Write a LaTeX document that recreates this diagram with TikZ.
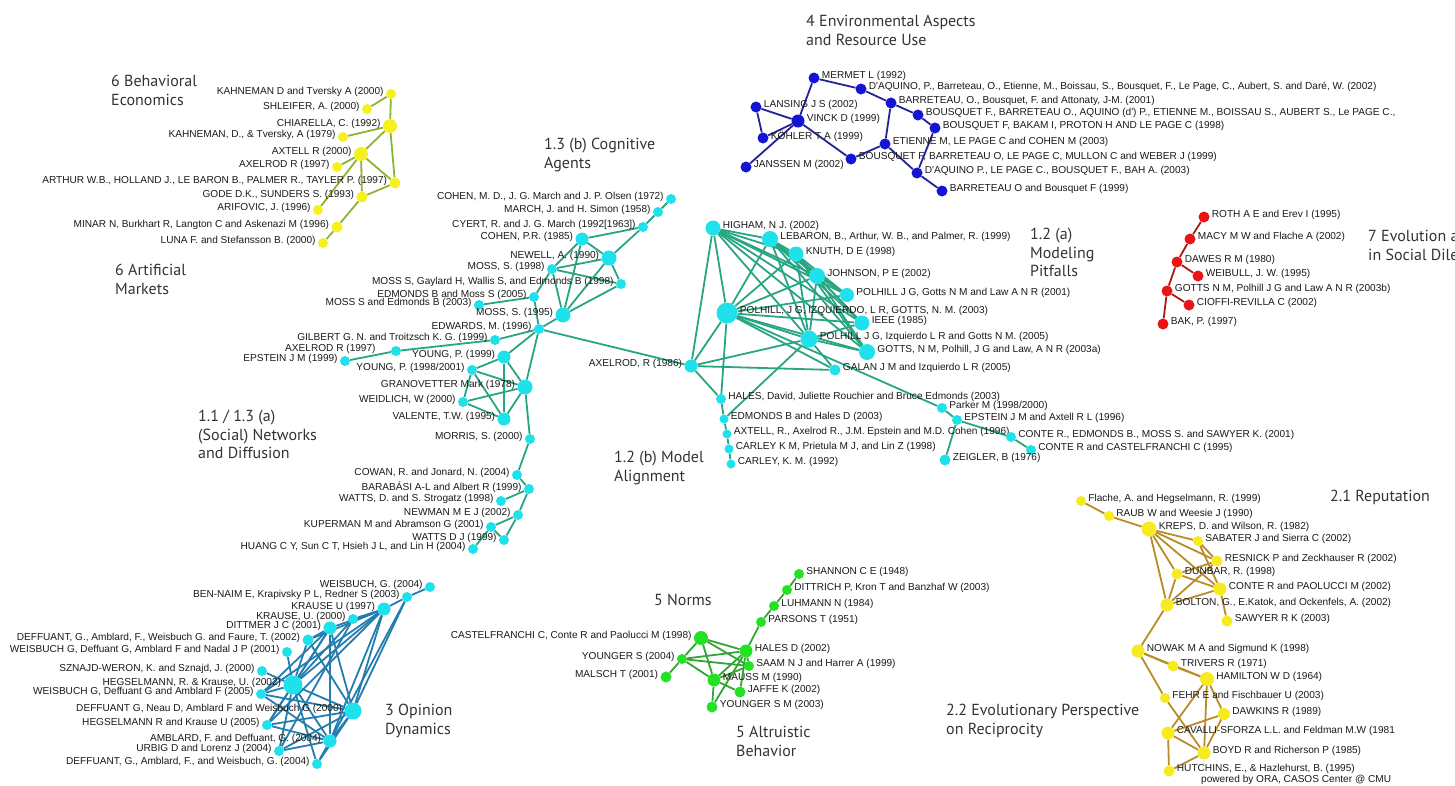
\documentclass[tikz,border=0pt]{standalone}
\usepackage{fontspec}
\newfontfamily\lblfont{Liberation Sans}
\newfontfamily\ttlfont{PT Sans}
\pgfdeclarelayer{bg}
\pgfsetlayers{bg,main}
\definecolor{ylN}{RGB}{245,240,30}
\definecolor{ylE}{RGB}{140,180,50}
\definecolor{cyN}{RGB}{30,225,235}
\definecolor{cyE}{RGB}{40,165,130}
\definecolor{blN}{RGB}{20,20,210}
\definecolor{blE}{RGB}{35,35,150}
\definecolor{rdN}{RGB}{235,20,20}
\definecolor{rdE}{RGB}{170,25,25}
\definecolor{gdN}{RGB}{245,235,30}
\definecolor{gdE}{RGB}{185,140,40}
\definecolor{grN}{RGB}{35,225,35}
\definecolor{grE}{RGB}{50,165,50}
\definecolor{opE}{RGB}{35,125,175}
\tikzset{
  lbl/.style={inner sep=0pt, font=\lblfont\fontsize{10.1}{11}\selectfont, text=black!90},
  ttl/.style={inner sep=0pt, anchor=north west, align=left, font=\ttlfont\fontsize{16}{18.5}\selectfont, text=black!80},
  dot/.style={circle, inner sep=0pt, fill=cyN},
  edg/.style={line width=1.8pt}
}
\newcommand\bib[7][]{%
  \node[dot, minimum size=#5pt+1pt] (#2) at (#3,#4) {};
  \if#6l%
    \node[lbl, anchor=east, #1] (#2-t) at ([xshift=-2pt,yshift=2pt]#2.west) {#7};
  \else
    \node[lbl, anchor=west, #1] (#2-t) at ([xshift=2pt,yshift=2pt]#2.east) {#7};
  \fi}
\begin{document}
\begin{tikzpicture}[x=1pt,y=-1pt]
\useasboundingbox (0,0) rectangle (1455,785);

% ---------- titles ----------
\node[ttl] (t1) at (111,75) {6 Behavioral\\Economics};
\node[ttl] (t2) at (115,264) {6 Artificial\\Markets};
\node[ttl] (t3) at (544,138) {1.3 (b) Cognitive\\Agents};
\node[ttl] (t4) at (806,15) {4 Environmental Aspects\\and Resource Use};
\node[ttl] (t5) at (1030,228) {1.2 (a)\\Modeling\\Pitfalls};
\begin{scope}
  \clip (0,0) rectangle (1455,785);
  \node[ttl] (t6) at (1368,230) {7 Evolution and\\in Social Dilemmas};
\end{scope}
\node[ttl] (t7) at (198,410) {1.1 / 1.3 (a)\\(Social) Networks\\and Diffusion};
\node[ttl] (t8) at (614,451) {1.2 (b) Model\\Alignment};
\node[ttl] (t9) at (654,594) {5 Norms};
\node[ttl] (t10) at (385,704) {3 Opinion\\Dynamics};
\node[ttl] (t11) at (736,726) {5 Altruistic\\Behavior};
\node[ttl] (t12) at (946,704) {2.2 Evolutionary Perspective\\on Reciprocity};
\node[ttl] (t13) at (1330,490) {2.1 Reputation};
\node[lbl, anchor=west] (ora) at (1201,780) {powered by ORA, CASOS Center @ CMU};

% ---------- 6 Behavioral Economics (yellow) ----------
\begin{scope}[dot/.style={circle, inner sep=0pt, fill=ylN}]
\bib{k00}{391}{94}{9}{l}{KAHNEMAN D and Tversky A (2000)}
\bib{shl}{367}{109}{9}{l}{SHLEIFER, A. (2000)}
\bib{chi}{390}{126}{13}{l}{CHIARELLA, C. (1992)}
\bib{k79}{343}{137}{9}{l}{KAHNEMAN, D., \& Tversky, A (1979)}
\bib{axt}{361}{154}{13}{l}{AXTELL R (2000)}
\bib{axe}{337}{167}{9}{l}{AXELROD R (1997)}
\bib{art}{395}{183}{10}{l}{ARTHUR W.B., HOLLAND J., LE BARON B., PALMER R., TAYLER P. (1997)}
\bib{god}{362}{197}{10}{l}{GODE D.K., SUNDERS S. (1993)}
\bib{ari}{318}{210}{9}{l}{ARIFOVIC, J. (1996)}
\bib{min}{337}{227}{10}{l}{MINAR N, Burkhart R, Langton C and Askenazi M (1996)}
\bib{lun}{323}{243}{9}{l}{LUNA F. and Stefansson B. (2000)}
\end{scope}
\begin{pgfonlayer}{bg}
\foreach \a/\b in {k00/shl,k00/chi,chi/art,chi/k79,chi/axt,axt/axe,axt/art,axt/ari,axt/god,god/art,god/min,min/lun}
  \draw[edg, ylE] (\a) -- (\b);
\end{pgfonlayer}

% ---------- cyan: cognitive agents / networks ----------
\bib{cmd}{671}{199}{9}{l}{COHEN, M. D., J. G. March and J. P. Olsen (1972)}
\bib{mar}{658}{212}{9}{l}{MARCH, J. and H. Simon (1958)}
\bib{cye}{643}{227}{9}{l}{CYERT, R. and J. G. March (1992[1963])}
\bib{cpr}{582}{239}{12}{l}{COHEN, P.R. (1985)}
\bib{new}{609}{258}{14}{l}{NEWELL, A. (1990)}
\bib{m98}{552}{269}{9}{l}{MOSS, S. (1998)}
\bib{mgw}{621}{284}{9}{l}{MOSS S, Gaylard H, Wallis S, and Edmonds B (1998)}
\bib{e05}{534}{297}{9}{l}{EDMONDS B and Moss S (2005)}
\bib{m03}{479}{305}{9}{l}{MOSS S and Edmonds B (2003)}
\bib{m95}{563}{315}{14}{l}{MOSS, S. (1995)}
\bib{edw}{539}{329}{9}{l}{EDWARDS, M. (1996)}
\bib{gil}{495}{340}{9}{l}{GILBERT G. N. and Troitzsch K. G. (1999)}
\bib[xshift=-13pt]{ax7}{396}{351}{9}{l}{AXELROD R (1997)}
\bib{eps}{345}{361}{9}{l}{EPSTEIN J M (1999)}
\bib{y99}{504}{357}{12}{l}{YOUNG, P. (1999)}
\bib{y98}{472}{370}{9}{l}{YOUNG, P. (1998/2001)}
\bib{gra}{525}{387}{14}{l}{GRANOVETTER Mark (1978)}
\bib{wei}{463}{402}{9}{l}{WEIDLICH, W (2000)}
\bib{val}{504}{419}{12}{l}{VALENTE, T.W. (1995)}
\bib{mor}{530}{439}{9}{l}{MORRIS, S. (2000)}
\bib{cow}{517}{475}{9}{l}{COWAN, R. and Jonard, N. (2004)}
\bib{bar}{529}{489}{9}{l}{BARABÁSI A-L and Albert R (1999)}
\bib{wat}{501}{501}{9}{l}{WATTS, D. and S. Strogatz (1998)}
\bib{nem}{518}{515}{9}{l}{NEWMAN M E J (2002)}
\bib{kup}{491}{527}{9}{l}{KUPERMAN M and Abramson G (2001)}
\bib{wdj}{504}{540}{9}{l}{WATTS D J (1999)}
\bib{hua}{473}{549}{9}{l}{HUANG C Y, Sun C T, Hsieh J L, and Lin H (2004)}
\bib{a86}{691}{366}{12}{l}{AXELROD, R (1986)}

% ---------- cyan: modeling pitfalls / model alignment ----------
\bib{hig}{713}{228}{14}{r}{HIGHAM, N J. (2002)}
\bib{leb}{770}{239}{15}{r}{LEBARON, B., Arthur, W. B., and Palmer, R. (1999)}
\bib{knu}{796}{254}{14}{r}{KNUTH, D E (1998)}
\bib{joh}{817}{276}{15}{r}{JOHNSON, P E (2002)}
\bib{p01}{847}{295}{13}{r}{POLHILL J G, Gotts N M and Law A N R (2001)}
\bib{p03}{727}{313}{20}{r}{POLHILL, J G, IZQUIERDO, L R, GOTTS, N. M. (2003)}
\bib{iee}{862}{323}{14}{r}{IEEE (1985)}
\bib{p05}{809}{339}{16}{r}{POLHILL J G, Izquierdo L R and Gotts N M. (2005)}
\bib{got}{867}{352}{15}{r}{GOTTS, N M, Polhill, J G and Law, A N R (2003a)}
\bib{gal}{835}{370}{10}{r}{GALAN J M and Izquierdo L R (2005)}
\bib{hal}{721}{399}{9}{r}{HALES, David, Juliette Rouchier and Bruce Edmonds (2003)}
\bib{edh}{724}{419}{8}{r}{EDMONDS B and Hales D (2003)}
\bib{ax6}{727}{434}{8}{r}{AXTELL, R., Axelrod R., J.M. Epstein and M.D. Cohen (1996)}
\bib{ckm}{729}{449}{8}{r}{CARLEY K M, Prietula M J, and Lin Z (1998)}
\bib{c92}{731}{464}{8}{r}{CARLEY, K. M. (1992)}
\bib{par}{942}{408}{9}{r}{Parker M (1998/2000)}
\bib{eax}{957}{420}{9}{r}{EPSTEIN J M and Axtell R L (1996)}
\bib{c01}{1011}{437}{9}{r}{CONTE R., EDMONDS B., MOSS S. and SAWYER K. (2001)}
\bib{c95}{1031}{450}{9}{r}{CONTE R and CASTELFRANCHI C (1995)}
\bib{zei}{945}{460}{10}{r}{ZEIGLER, B (1976)}
\begin{pgfonlayer}{bg}
\foreach \a/\b in {cmd/mar,mar/cye,cye/cpr,cye/new,cpr/new,cpr/m98,cpr/m95,new/m98,new/mgw,new/m95,m98/mgw,m98/m95,m98/e05,mgw/m95,e05/m03,e05/edw,m95/edw,edw/gil,edw/y99,edw/gra,edw/a86,gil/ax7,ax7/eps,y99/y98,y99/gra,y99/val,y98/gra,y98/val,y98/wei,wei/gra,wei/val,gra/val,gra/mor,mor/cow,cow/bar,bar/wat,bar/nem,nem/kup,nem/wdj,kup/wdj,kup/hua,
  a86/hig,a86/p03,a86/p05,a86/gal,a86/hal,
  hig/leb,hig/knu,hig/joh,hig/p01,hig/p03,hig/iee,hig/p05,hig/got,
  leb/knu,leb/joh,leb/p01,leb/p03,leb/iee,leb/got,leb/p05,
  knu/joh,knu/p01,knu/iee,knu/got,knu/p03,knu/p05,
  joh/p03,joh/p05,joh/iee,joh/got,joh/p01,
  p03/iee,p03/got,p03/p05,p03/gal,p03/p01,p05/iee,p05/got,p05/gal,p05/edh,
  p03/par,par/eax,eax/c01,c01/c95,eax/zei,
  p03/hal,hal/edh,edh/ax6,ax6/ckm,ckm/c92}
  \draw[edg, cyE] (\a) -- (\b);
\end{pgfonlayer}

% ---------- 4 Environmental (blue) ----------
\begin{scope}[dot/.style={circle, inner sep=0pt, fill=blN}]
\bib{mer}{814}{78}{10}{r}{MERMET L (1992)}
\bib{d02}{861}{89}{10}{r}{D'AQUINO, P., Barreteau, O., Etienne, M., Boissau, S., Bousquet, F., Le Page, C., Aubert, S. and Daré, W. (2002)}
\bib{b01}{891}{103}{10}{r}{BARRETEAU, O., Bousquet, F. and Attonaty, J-M. (2001)}
\bib{bfb}{918}{115}{10}{r}{BOUSQUET F., BARRETEAU O., AQUINO (d') P., ETIENNE M., BOISSAU S., AUBERT S., Le PAGE C.,}
\bib{b98}{935}{128}{10}{r}{BOUSQUET F, BAKAM I, PROTON H AND LE PAGE C (1998)}
\bib{lan}{756}{107}{10}{r}{LANSING J S (2002)}
\bib{vin}{798}{121}{12}{r}{VINCK D (1999)}
\bib{koh}{763}{138}{10}{r}{KÖHLER T A (1999)}
\bib{eti}{885}{144}{10}{r}{ETIENNE M, LE PAGE C and COHEN M (2003)}
\bib{b99}{851}{159}{10}{r}{BOUSQUET F, BARRETEAU O, LE PAGE C, MULLON C and WEBER J (1999)}
\bib{jan}{746}{167}{10}{r}{JANSSEN M (2002)}
\bib{d03}{917}{173}{10}{r}{D'AQUINO P., LE PAGE C., BOUSQUET F., BAH A. (2003)}
\bib{b9b}{942}{191}{10}{r}{BARRETEAU O and Bousquet F (1999)}
\end{scope}
\begin{pgfonlayer}{bg}
\foreach \a/\b in {mer/d02,d02/b01,b01/bfb,bfb/b98,b98/d03,d03/b9b,d03/eti,b01/eti,eti/b99,b99/vin,vin/mer,vin/lan,lan/koh,vin/koh,vin/jan}
  \draw[edg, blE] (\a) -- (\b);
\end{pgfonlayer}

% ---------- 7 Evolution (red) ----------
\begin{scope}[dot/.style={circle, inner sep=0pt, fill=rdN}]
\bib{rot}{1204}{217}{10}{r}{ROTH A E and Erev I (1995)}
\bib{mac}{1190}{239}{10}{r}{MACY M W and Flache A (2002)}
\bib{daw}{1177}{262}{10}{r}{DAWES R M (1980)}
\bib{wbl}{1198}{276}{10}{r}{WEIBULL, J. W. (1995)}
\bib{gtb}{1167}{291}{10}{r}{GOTTS N M, Polhill J G and Law A N R (2003b)}
\bib{cio}{1189}{305}{10}{r}{CIOFFI-REVILLA C (2002)}
\bib{bak}{1163}{324}{10}{r}{BAK, P. (1997)}
\end{scope}
\begin{pgfonlayer}{bg}
\foreach \a/\b in {rot/mac,mac/daw,daw/wbl,daw/gtb,gtb/cio,gtb/bak}
  \draw[edg, rdE] (\a) -- (\b);
\end{pgfonlayer}

% ---------- 2.1 / 2.2 (gold) ----------
\begin{scope}[dot/.style={circle, inner sep=0pt, fill=gdN}]
\bib{fla}{1081}{501}{9}{r}{Flache, A. and Hegselmann, R. (1999)}
\bib{rau}{1109}{516}{9}{r}{RAUB W and Weesie J (1990)}
\bib{kre}{1149}{529}{14}{r}{KREPS, D. and Wilson, R. (1982)}
\bib{sab}{1198}{541}{9}{r}{SABATER J and Sierra C (2002)}
\bib{res}{1217}{561}{10}{r}{RESNICK P and Zeckhauser R (2002)}
\bib{dun}{1177}{574}{10}{r}{DUNBAR, R. (1998)}
\bib{con}{1220}{589}{12}{r}{CONTE R and PAOLUCCI M (2002)}
\bib{bol}{1167}{605}{12}{r}{BOLTON, G., E.Katok, and Ockenfels, A. (2002)}
\bib{saw}{1227}{621}{10}{r}{SAWYER R K (2003)}
\bib{now}{1138}{651}{12}{r}{NOWAK M A and Sigmund K (1998)}
\bib{tri}{1173}{666}{10}{r}{TRIVERS R (1971)}
\bib{ham}{1207}{679}{13}{r}{HAMILTON W D (1964)}
\bib{feh}{1165}{698}{9}{r}{FEHR E and Fischbauer U (2003)}
\bib{dwk}{1224}{714}{11}{r}{DAWKINS R (1989)}
\bib{cav}{1168}{733}{12}{r}{CAVALLI-SFORZA L.L. and Feldman M.W (1981}
\bib{boy}{1204}{753}{12}{r}{BOYD R and Richerson P (1985)}
\bib{hut}{1169}{771}{10}{r}{HUTCHINS, E., \& Hazlehurst, B. (1995)}
\end{scope}
\begin{pgfonlayer}{bg}
\foreach \a/\b in {fla/rau,rau/kre,kre/sab,kre/res,kre/dun,kre/con,kre/bol,sab/res,sab/con,dun/res,dun/con,dun/bol,con/bol,res/bol,con/saw,bol/now,now/tri,now/ham,now/feh,tri/ham,ham/dwk,ham/cav,ham/boy,feh/boy,dwk/cav,dwk/boy,cav/boy,cav/hut,boy/hut}
  \draw[edg, gdE] (\a) -- (\b);
\end{pgfonlayer}

% ---------- 5 Norms / Altruistic (green) ----------
\begin{scope}[dot/.style={circle, inner sep=0pt, fill=grN}]
\bib{sha}{799}{574}{9}{r}{SHANNON C E (1948)}
\bib{dit}{787}{590}{9}{r}{DITTRICH P, Kron T and Banzhaf W (2003)}
\bib{luh}{774}{606}{9}{r}{LUHMANN N (1984)}
\bib{pars}{761}{622}{9}{r}{PARSONS T (1951)}
\bib{hd}{746}{651}{12}{r}{HALES D (2002)}
\bib{saa}{749}{666}{9}{r}{SAAM N J and Harrer A (1999)}
\bib{cas}{701}{638}{13}{l}{CASTELFRANCHI C, Conte R and Paolucci M (1998)}
\bib{ys}{682}{659}{9}{l}{YOUNGER S (2004)}
\bib{mal}{666}{677}{10}{l}{MALSCH T (2001)}
\bib{mau}{714}{680}{12}{r}{MAUSS M (1990)}
\bib{jaf}{740}{692}{10}{r}{JAFFE K (2002)}
\bib{ysm}{712}{707}{10}{r}{YOUNGER S M (2003)}
\end{scope}
\begin{pgfonlayer}{bg}
\foreach \a/\b in {sha/dit,dit/luh,luh/pars,pars/hd,hd/saa,hd/cas,hd/ys,hd/mau,hd/jaf,hd/ysm,cas/ys,cas/mau,cas/saa,ys/mal,ys/mau,ys/saa,mau/ysm,mau/jaf,mau/saa}
  \draw[edg, grE] (\a) -- (\b);
\end{pgfonlayer}

% ---------- 3 Opinion Dynamics ----------
\bib{w04}{430}{587}{9}{l}{WEISBUCH, G. (2004)}
\bib{ben}{407}{597}{9}{l}{BEN-NAIM E, Krapivsky P L, Redner S (2003)}
\bib{k97}{384}{609}{12}{l}{KRAUSE U (1997)}
\bib{k00b}{353}{619}{9}{l}{KRAUSE, U. (2000)}
\bib{dtm}{330}{628}{12}{l}{DITTMER J C (2001)}
\bib{d02b}{308}{640}{10}{l}{DEFFUANT, G., Amblard, F., Weisbuch G. and Faure, T. (2002)}
\bib{w01}{287}{652}{9}{l}{WEISBUCH G, Deffuant G, Amblard F and Nadal J P (2001)}
\bib{szn}{262}{671}{9}{l}{SZNAJD-WERON, K. and Sznajd, J. (2000)}
\bib{h02}{293}{685}{18}{l}{HEGSELMANN, R. \& Krause, U. (2002)}
\bib{w05}{261}{694}{9}{l}{WEISBUCH G, Deffuant G and Amblard F (2005)}
\bib{d00}{353}{711}{16}{l}{DEFFUANT G, Neau D, Amblard F and Weisbuch G (2000)}
\bib{h05}{267}{725}{9}{l}{HEGSELMANN R and Krause U (2005)}
\bib{amb}{330}{741}{12}{l}{AMBLARD, F. and Deffuant, G. (2004)}
\bib{urb}{279}{751}{9}{l}{URBIG D and Lorenz J (2004)}
\bib{d04}{317}{764}{9}{l}{DEFFUANT, G., Amblard, F., and Weisbuch, G. (2004)}
\begin{pgfonlayer}{bg}
\foreach \a/\b in {w04/ben,ben/k97,k97/k00b,k97/dtm,k97/h02,k97/d00,k97/amb,k97/d02b,k97/w05,k97/h05,ben/d00,ben/amb,k00b/h02,k00b/urb,dtm/d02b,dtm/h02,dtm/d00,dtm/amb,dtm/h05,dtm/w05,d02b/h02,d02b/d00,w01/h02,szn/h02,h02/w05,h02/d00,h02/h05,h02/amb,h02/urb,h02/d04,d00/amb,d00/h05,d00/urb,d00/d04,d00/w05,amb/urb,amb/d04,amb/h05,w05/amb}
  \draw[edg, opE] (\a) -- (\b);
\end{pgfonlayer}
\end{tikzpicture}
\end{document}
